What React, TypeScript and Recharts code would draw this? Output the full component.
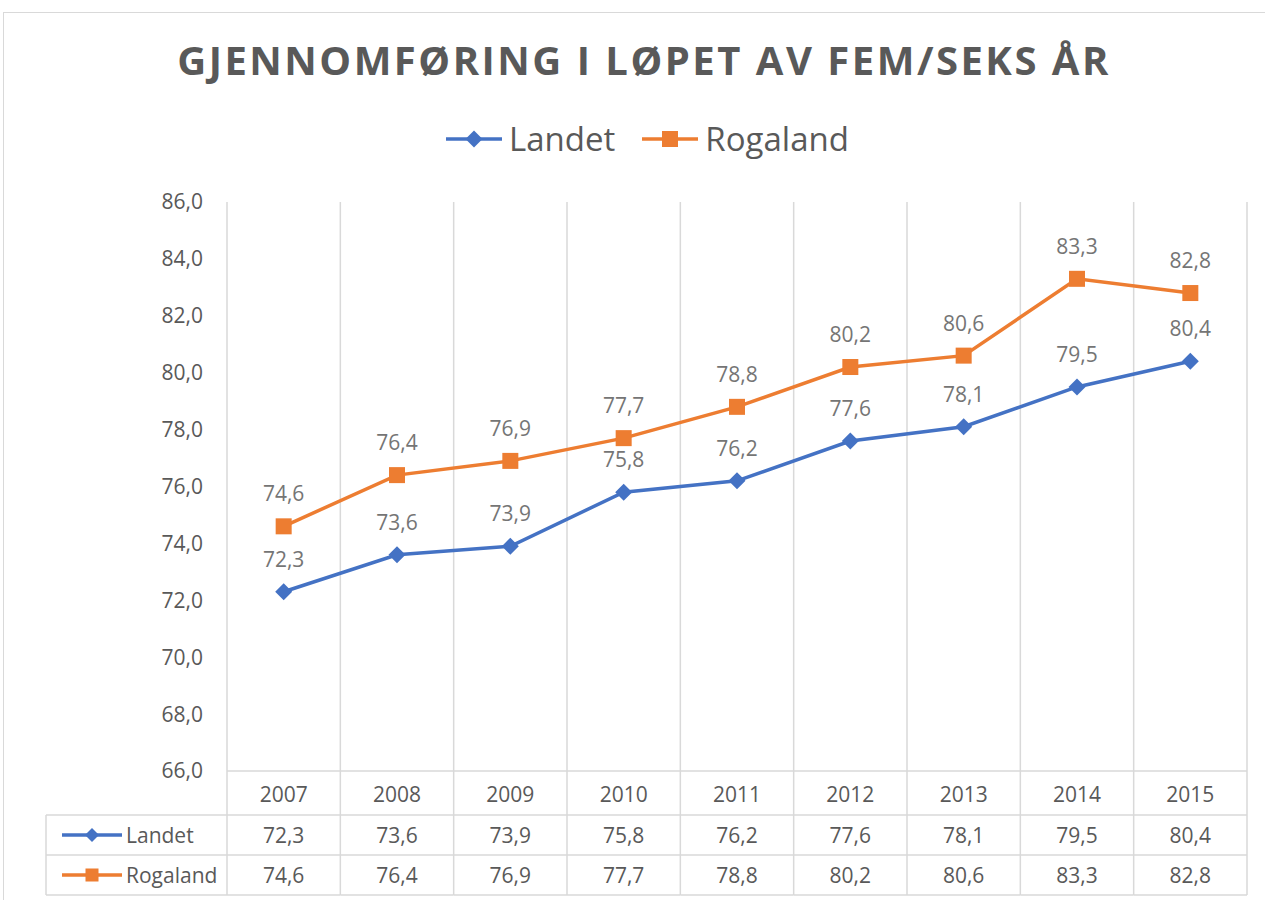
import { CartesianGrid, LabelList, Line, LineChart, XAxis, YAxis } from "recharts";

const YEARS = ["2007", "2008", "2009", "2010", "2011", "2012", "2013", "2014", "2015"];
const LANDET = [72.3, 73.6, 73.9, 75.8, 76.2, 77.6, 78.1, 79.5, 80.4];
const ROGALAND = [74.6, 76.4, 76.9, 77.7, 78.8, 80.2, 80.6, 83.3, 82.8];
const Y_TICKS = [66, 68, 70, 72, 74, 76, 78, 80, 82, 84, 86];

const SERIES = [
  { key: "landet", name: "Landet", color: "#4472C4", values: LANDET, marker: "diamond" },
  { key: "rogaland", name: "Rogaland", color: "#ED7D31", values: ROGALAND, marker: "square" },
];

const data = YEARS.map((year, idx) => ({
  idx,
  year,
  landet: LANDET[idx],
  rogaland: ROGALAND[idx],
}));

// category boundaries for the vertical gridlines
const GRID_TICKS = [...YEARS.map((_, i) => i - 0.5), YEARS.length - 0.5];

const W = 1265;
const H = 900;
const PLOT_LEFT = 227;
const PLOT_RIGHT = 18;
const PLOT_TOP = 202;
const TABLE_H = 129;
const COL_W = (W - PLOT_LEFT - PLOT_RIGHT) / YEARS.length;
const TABLE_LEFT = 46;
const LINE_GRAY = "#d9d9d9";
const TEXT = "#595959";
const FONT = "'Open Sans', sans-serif";

const fmt = (v: number) => v.toFixed(1).replace(".", ",");

function Marker({ type, cx, cy, color, size }: { type: string; cx: number; cy: number; color: string; size: number }) {
  if (type === "diamond") {
    const r = size / 2;
    return <polygon points={`${cx},${cy - r} ${cx + r},${cy} ${cx},${cy + r} ${cx - r},${cy}`} fill={color} />;
  }
  return <rect x={cx - size / 2} y={cy - size / 2} width={size} height={size} fill={color} />;
}

function TableTick(props: any) {
  const { x, y, payload } = props;
  const i = payload.value as number;
  const half = COL_W / 2;
  const rows = [y + 44, y + 84, y + 124];
  const l = x - half;
  const r = x + half;
  return (
    <g fontFamily={FONT} fontSize={21} fill={TEXT}>
      <text x={x} y={y + 23} textAnchor="middle" dominantBaseline="central">{YEARS[i]}</text>
      {SERIES.map((s, k) => (
        <text key={s.key} x={x} y={y + 64 + k * 40} textAnchor="middle" dominantBaseline="central">
          {fmt(s.values[i])}
        </text>
      ))}
      {rows.map((ry) => (
        <line key={ry} x1={l} x2={r} y1={ry} y2={ry} stroke={LINE_GRAY} strokeWidth={1.5} />
      ))}
      <line x1={r} x2={r} y1={y} y2={y + 124} stroke={LINE_GRAY} strokeWidth={1.5} />
      {i === 0 && (
        <g>
          <line x1={l} x2={l} y1={y} y2={y + 124} stroke={LINE_GRAY} strokeWidth={1.5} />
          <line x1={TABLE_LEFT} x2={TABLE_LEFT} y1={y + 44} y2={y + 124} stroke={LINE_GRAY} strokeWidth={1.5} />
          {rows.map((ry) => (
            <line key={ry} x1={TABLE_LEFT} x2={l} y1={ry} y2={ry} stroke={LINE_GRAY} strokeWidth={1.5} />
          ))}
          {SERIES.map((s, k) => {
            const cy = y + 64 + k * 40;
            return (
              <g key={s.key}>
                <line x1={62} x2={122} y1={cy} y2={cy} stroke={s.color} strokeWidth={3.5} />
                <Marker type={s.marker} cx={92} cy={cy} color={s.color} size={s.marker === "diamond" ? 14 : 13} />
                <text x={126} y={cy} dominantBaseline="central">{s.name}</text>
              </g>
            );
          })}
        </g>
      )}
    </g>
  );
}

export default function App() {
  return (
    <div style={{ position: "absolute", left: 0, top: 0, width: W, height: H, overflow: "hidden", background: "#fff" }}>
      <div
        style={{
          position: "absolute",
          left: 3,
          top: 12,
          width: 1280,
          height: 1000,
          border: `1.5px solid ${LINE_GRAY}`,
          boxSizing: "border-box",
        }}
      />
      <div
        style={{
          position: "absolute",
          left: 0,
          top: 32,
          width: 1288,
          textAlign: "center",
          fontFamily: FONT,
          fontWeight: 700,
          fontSize: 40,
          letterSpacing: 2.5,
          color: TEXT,
          lineHeight: "normal",
        }}
      >
        GJENNOMFØRING I LØPET AV FEM/SEKS ÅR
      </div>
      <div
        style={{
          position: "absolute",
          left: 0,
          top: 116,
          width: 1294,
          height: 45,
          display: "flex",
          justifyContent: "center",
          alignItems: "center",
          gap: 26,
          fontFamily: FONT,
          fontSize: 33,
          color: TEXT,
          lineHeight: "45px",
        }}
      >
        {SERIES.map((s) => (
          <div key={s.key} style={{ display: "flex", alignItems: "center" }}>
            <svg width={58} height={22} style={{ marginRight: 6 }}>
              <line x1={1} x2={57} y1={11} y2={11} stroke={s.color} strokeWidth={3.5} />
              <Marker type={s.marker} cx={29} cy={11} color={s.color} size={s.marker === "diamond" ? 17 : 16} />
            </svg>
            <span>{s.name}</span>
          </div>
        ))}
      </div>
      <div style={{ position: "absolute", left: 0, top: 0 }}>
        <LineChart
          width={W}
          height={H}
          data={data}
          margin={{ top: PLOT_TOP, right: PLOT_RIGHT, bottom: 0, left: 0 }}
        >
          <CartesianGrid xAxisId="grid" vertical horizontal={false} stroke={LINE_GRAY} strokeWidth={1.5} />
          <XAxis
            xAxisId="grid"
            type="number"
            dataKey="idx"
            domain={[-0.5, YEARS.length - 0.5]}
            ticks={GRID_TICKS}
            hide
          />
          <XAxis
            type="number"
            dataKey="idx"
            domain={[-0.5, YEARS.length - 0.5]}
            ticks={YEARS.map((_, i) => i)}
            interval={0}
            height={TABLE_H}
            tickSize={0}
            tickMargin={0}
            tickLine={false}
            axisLine={{ stroke: LINE_GRAY, strokeWidth: 1.5 }}
            tick={<TableTick />}
          />
          <YAxis
            domain={[66, 86]}
            ticks={Y_TICKS}
            interval={0}
            width={PLOT_LEFT}
            axisLine={false}
            tickLine={false}
            tickSize={0}
            tickMargin={24}
            tickFormatter={fmt}
            tick={{ fontFamily: FONT, fontSize: 21, fill: TEXT }}
          />
          {SERIES.map((s) => (
            <Line
              key={s.key}
              dataKey={s.key}
              name={s.name}
              stroke={s.color}
              strokeWidth={3.5}
              isAnimationActive={false}
              dot={(p: any) => (
                <Marker
                  key={`${s.key}-${p.index}`}
                  type={s.marker}
                  cx={p.cx}
                  cy={p.cy}
                  color={s.color}
                  size={s.marker === "diamond" ? 17 : 16}
                />
              )}
              activeDot={false}
            >
              <LabelList
                dataKey={s.key}
                position="top"
                offset={25}
                formatter={(v: any) => fmt(Number(v))}
                style={{ fontFamily: FONT, fontSize: 21, fill: "#757575" }}
              />
            </Line>
          ))}
        </LineChart>
      </div>
    </div>
  );
}
